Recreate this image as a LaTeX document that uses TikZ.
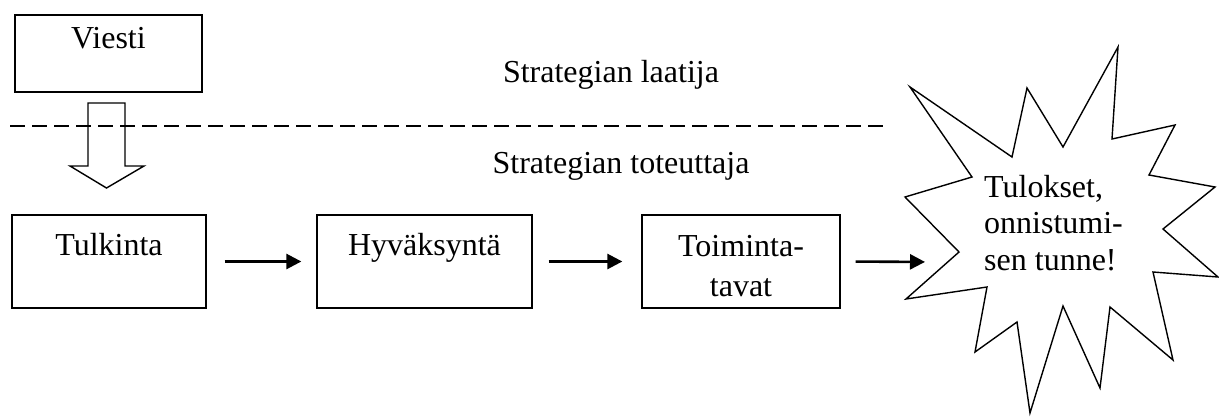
\documentclass[tikz,border=0pt]{standalone}
\usepackage{fontspec}
\setmainfont{Liberation Serif}
\usetikzlibrary{arrows.meta}
\begin{document}
\begin{tikzpicture}[x=1pt,y=1pt,
  box/.style={draw=black, line width=1.3pt, inner sep=0pt},
  txt/.style={inner sep=0pt, font=\fontsize{32}{40}\selectfont},
  flow/.style={line width=2.6pt, -{Triangle[length=15pt,width=15pt]}},
  sepline/.style={line width=2pt, dash pattern=on 15pt off 7pt},
  outline/.style={line width=1.4pt, line join=miter}]
\useasboundingbox (0,0) rectangle (1219,-416);
% top box
\node[box, minimum width=187pt, minimum height=77pt] (viesti) at (108.5,-53.5) {};
\node[txt, anchor=base] (viestiT) at (108.5,-48) {Viesti};
% hollow block arrow
\draw[outline] (88,-103) -- (125,-103) -- (125,-166) -- (144,-166) -- (106.5,-188)
  -- (70,-166) -- (88,-166) -- cycle;
% dashed separator
\coordinate (dl) at (10,-126);
\coordinate (dr) at (885,-126);
\draw[sepline] (dl) -- (dr);
\node[txt, anchor=base] (laatija) at (611,-82) {Strategian laatija};
\node[txt, anchor=base] (toteuttaja) at (621,-173) {Strategian toteuttaja};
% process boxes
\node[box, minimum width=194pt, minimum height=93pt] (tulk) at (109,-261.5) {};
\node[txt, anchor=base] (tulkT) at (109,-255) {Tulkinta};
\node[box, minimum width=215pt, minimum height=93pt] (hyv) at (424.5,-261.5) {};
\node[txt, anchor=base] (hyvT) at (424.5,-255) {Hyväksyntä};
\node[box, minimum width=198pt, minimum height=93pt] (toim) at (741,-261.5) {};
\node[txt, anchor=base, align=center] (toimT) at (741,-296) {Toiminta-\\tavat};
% star
\draw[outline] (1118,-47) -- (1112,-139) -- (1175,-125) -- (1149,-175) -- (1215,-187)
  -- (1163,-229) -- (1218,-277) -- (1153,-272) -- (1173,-360) -- (1110,-307)
  -- (1100,-388) -- (1063,-306) -- (1030,-413) -- (1017,-322) -- (975,-352)
  -- (987,-287) -- (906,-299) -- (959,-252) -- (905,-197) -- (972,-177)
  -- (910,-87) -- (1012,-157) -- (1027,-88) -- (1063,-147) -- cycle;
\node[txt, anchor=base west, align=left, font=\fontsize{32}{36.5}\selectfont] (tulos) at (984,-270) {Tulokset,\\onnistumi-\\sen tunne!};
\coordinate (starin) at (940,-262);
% connectors
\draw[flow, shorten <=18pt, shorten >=15pt] (tulk.east) -- (hyv.west);
\draw[flow, shorten <=16pt, shorten >=19pt] (hyv.east) -- (toim.west);
\draw[flow, shorten <=15pt, shorten >=15pt] (toim.east) -- (starin);
\end{tikzpicture}
\end{document}
